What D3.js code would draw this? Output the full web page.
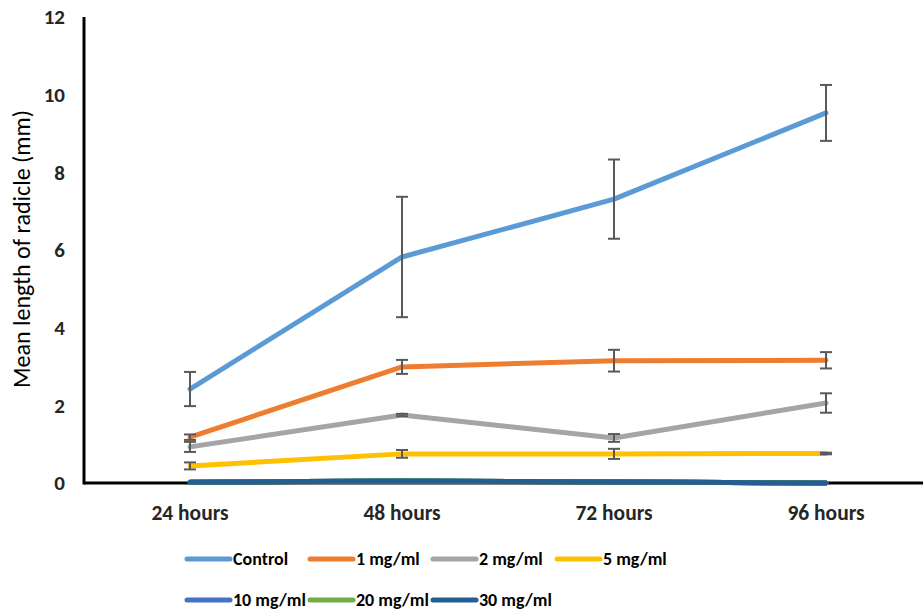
<!DOCTYPE html>
<html><head><meta charset="utf-8">
<script src="https://cdn.jsdelivr.net/npm/d3@7"></script>
<style>body{margin:0;background:#fff}svg{display:block}</style>
</head><body><svg id="c" width="923" height="612"></svg>
<script>
const categories = ["24 hours","48 hours","72 hours","96 hours"];
const seriesNames = ["Control","1 mg/ml","2 mg/ml","5 mg/ml","10 mg/ml","20 mg/ml","30 mg/ml"];
const colors = ["#5B9BD5","#ED7D31","#A5A5A5","#FFC000","#4472C4","#70AD47","#255E91"];
const control = [2.42, 5.82, 7.31, 9.53];
const mg1 = [1.18, 2.99, 3.15, 3.16];
const mg2 = [0.93, 1.75, 1.16, 2.06];
const mg5 = [0.44, 0.75, 0.75, 0.76];
const mg10 = [0.02, 0.05, 0.03, 0.0];
const mg20 = [0.02, 0.05, 0.03, 0.0];
const mg30 = [0.02, 0.05, 0.03, 0.0];
const errControl = [0.44, 1.55, 1.02, 0.72];
const errMg1 = [0.07, 0.18, 0.28, 0.21];
const errMg2 = [0.13, 0.03, 0.1, 0.25];
const errMg5 = [0.09, 0.1, 0.13, 0.02];
const errZero = [0, 0, 0, 0];
const yTicks = [0,2,4,6,8,10,12];

const values = [control, mg1, mg2, mg5, mg10, mg20, mg30];
const errs = [errControl, errMg1, errMg2, errMg5, errZero, errZero, errZero];

const svg = d3.select("#c");
const mLeft = 84, mTop = 17, mBottom = 483, mRight = 932;
const x = d3.scaleBand().domain(categories).range([mLeft, mRight]);
const y = d3.scaleLinear().domain([0, 12]).range([mBottom, mTop]);
const cx = c => x(c) + x.bandwidth()/2;
const font = "Carlito, Calibri, Lato, 'Open Sans', sans-serif";

// y tick labels
svg.append("g").selectAll("text").data(yTicks).join("text")
  .attr("x", 65).attr("y", d => y(d)).attr("dy", "0.35em")
  .attr("text-anchor", "end").attr("font-family", font).attr("font-weight", "bold")
  .attr("font-size", 21).attr("fill", "#262626").text(d => d);

// x labels
svg.append("g").selectAll("text").data(categories).join("text")
  .attr("x", d => cx(d)).attr("y", 512).attr("dy", "0.35em")
  .attr("text-anchor", "middle").attr("font-family", font).attr("font-weight", "bold")
  .attr("font-size", 21.5).attr("fill", "#262626").text(d => d);

// y title
svg.append("text").attr("transform", "translate(30,249) rotate(-90)")
  .attr("text-anchor", "middle").attr("font-family", font).attr("font-size", 24)
  .attr("fill", "#000").text("Mean length of radicle (mm)");

// lines
const line = d3.line().x((d,i) => cx(categories[i])).y(d => y(d));
values.forEach((vals, s) => {
  svg.append("path").datum(vals).attr("d", line).attr("fill", "none")
    .attr("stroke", colors[s]).attr("stroke-width", 5)
    .attr("stroke-linecap", "round").attr("stroke-linejoin", "round");
});

// error bars
values.forEach((vals, s) => {
  const g = svg.append("g").attr("stroke", "#595959").attr("stroke-width", 2);
  vals.forEach((v, i) => {
    const e = errs[s][i];
    if (e <= 0) return;
    const xc = cx(categories[i]);
    g.append("line").attr("x1", xc).attr("x2", xc).attr("y1", y(v+e)).attr("y2", y(v-e));
    g.append("line").attr("x1", xc-6).attr("x2", xc+6).attr("y1", y(v+e)).attr("y2", y(v+e));
    g.append("line").attr("x1", xc-6).attr("x2", xc+6).attr("y1", y(v-e)).attr("y2", y(v-e));
  });
});

// axes lines
svg.append("line").attr("x1", mLeft).attr("x2", mLeft).attr("y1", mTop).attr("y2", mBottom+1.5)
  .attr("stroke", "#000").attr("stroke-width", 3);
svg.append("line").attr("x1", mLeft).attr("x2", 923).attr("y1", mBottom).attr("y2", mBottom)
  .attr("stroke", "#000").attr("stroke-width", 3);

// redraw near-zero series over axis
values.slice(4).forEach((vals, k) => {
  svg.append("path").datum(vals).attr("d", line).attr("fill", "none")
    .attr("stroke", colors[4+k]).attr("stroke-width", 5)
    .attr("stroke-linecap", "round").attr("stroke-linejoin", "round");
});

// legend
const legendPos = [[187,559],[310,559],[433,559],[557,559],[187,600],[310,600],[433,600]];
const legendLen = 43;
seriesNames.forEach((n, i) => {
  const [lx, ly] = legendPos[i];
  svg.append("line").attr("x1", lx).attr("x2", lx + legendLen).attr("y1", ly).attr("y2", ly)
    .attr("stroke", colors[i]).attr("stroke-width", 5).attr("stroke-linecap", "round");
  svg.append("text").attr("x", lx + legendLen + 3).attr("y", ly).attr("dy", "0.35em")
    .attr("font-family", font).attr("font-weight", "bold").attr("font-size", 18)
    .attr("fill", "#000").text(n);
});
</script></body></html>
